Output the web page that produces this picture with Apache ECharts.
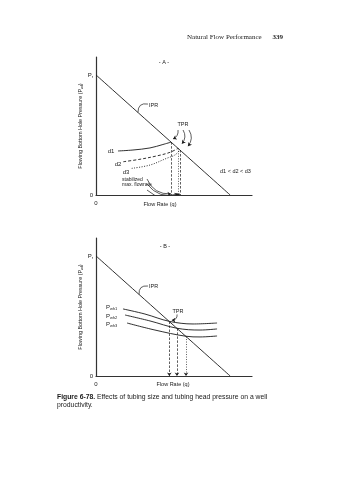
<!DOCTYPE html>
<html><head><meta charset="utf-8">
<script src="https://cdn.jsdelivr.net/npm/echarts@6/dist/echarts.min.js"></script>
<style>html,body{margin:0;padding:0;background:#fff}#c{width:339px;height:480px}</style>
</head><body><div id="c"></div>
<script>
// ---- data (schematic, normalized units) ----
const prValue = 87;
const iprA = [[0, 87], [86, 0]];
const iprB = [[0, 87], [86, 0]];
// Panel A: TPR curves for tubing sizes d1 < d2 < d3
const tprD1 = [[14.1, 31.9], [23.7, 32.6], [34.6, 34.1], [42.9, 36.6], [48.1, 38.3]];
const tprD2 = [[17.5, 24.1], [28.2, 25.9], [38.9, 28.3], [47.4, 30.9], [52.6, 33.8]];
const tprD3 = [[22.9, 19.3], [34.6, 21.7], [45.3, 26.6], [50.6, 29.0], [53.8, 32.6]];
const opA = [[48.1, 38.3], [52.6, 33.8], [53.8, 32.6]];
// Panel B: TPR curves for wellhead pressures Pwh1 > Pwh2 > Pwh3
const tprP1 = [[17.3, 48.6], [31.4, 44.9], [47.0, 39.6], [62.2, 37.7], [77.6, 38.4]];
const tprP2 = [[18.6, 44.2], [34.6, 39.9], [51.9, 34.6], [66.7, 33.3], [77.6, 34.1]];
const tprP3 = [[19.9, 38.4], [37.8, 33.3], [57.7, 28.8], [66.7, 28.3], [77.6, 29.0]];
const opB = [[47.0, 39.5], [51.9, 34.5], [57.7, 28.6]];
// annotation leaders / arrows (data coordinates)
const iprLeaderA = [[26.9, 59.8], [33.3, 65.9]];
const iprLeaderB = [[27.6, 59.0], [33.3, 65.2]];
const tprArrowsA = [[[52.6, 47.1], [49.4, 40.6]], [[55.8, 47.1], [55.1, 37.2]], [[59.6, 47.1], [59.0, 35.4]]];
const stabArrowsA = [[[32.7, 11.6], [48.1, 0.8]], [[32.7, 8.0], [52.6, 0.8]], [[32.7, 3.6], [53.8, 0.8]]];
const tprLeaderB = [[52.0, 44.6], [48.6, 40.4]];

const FONT = '"Liberation Sans", Arial, sans-serif';
const INK = '#1a1a1a';
const chart = echarts.init(document.getElementById('c'), null, {renderer: 'canvas'});

function axisPair(i) {
  return {
    x: {
      gridIndex: i, type: 'value', min: 0, max: 100,
      axisLine: {show: true, lineStyle: {color: '#333', width: 1.2}},
      axisTick: {show: false}, splitLine: {show: false},
      axisLabel: {customValues: [0], margin: 5, fontSize: 6, color: INK, fontFamily: FONT}
    },
    y: {
      gridIndex: i, type: 'value', min: 0, max: 100,
      axisLine: {show: true, lineStyle: {color: '#333', width: 1.2}},
      axisTick: {show: false}, splitLine: {show: false},
      axisLabel: {
        customValues: [0, prValue], margin: 3, fontSize: 6, color: INK, fontFamily: FONT,
        formatter: v => v === 0 ? '0' : '{p|P}{s|r}',
        rich: {p: {fontSize: 6, color: INK, fontFamily: FONT}, s: {fontSize: 4, color: INK, fontFamily: FONT, padding: [4, 0, 0, 0]}}
      },
      name: 'Flowing Bottom Hole Pressure ({p|P}{s|wf})',
      nameLocation: 'middle', nameGap: 9, nameRotate: 90,
      nameTextStyle: {fontSize: 5.4, color: INK, fontFamily: FONT,
        rich: {p: {fontSize: 5.4, color: INK, fontFamily: FONT}, s: {fontSize: 3.8, color: INK, fontFamily: FONT, padding: [3, 0, 0, 0]}}}
    }
  };
}
const A = axisPair(0), B = axisPair(1);

function curve(data, gi, type, w) {
  return {type: 'line', xAxisIndex: gi, yAxisIndex: gi, data: data, smooth: 0.35,
    showSymbol: false, silent: true, animation: false,
    lineStyle: {color: INK, width: w || 0.9, type: type || 'solid'}};
}
function arrows(list, gi, opt) {
  opt = opt || {};
  return {type: 'lines', coordinateSystem: 'cartesian2d', xAxisIndex: gi, yAxisIndex: gi,
    silent: true, animation: false,
    symbol: opt.arrow === false ? ['none', 'none'] : ['none', 'arrow'], symbolSize: 3.5,
    lineStyle: {color: INK, width: 0.7, curveness: opt.curve || 0, type: opt.type || 'solid', opacity: 1},
    data: list.map((c, k) => ({coords: c, lineStyle: opt.types ? {type: opt.types[k]} : undefined}))};
}
function drops(ops, gi, types, arrowOn) {
  return arrows(ops.map(p => [p, [p[0], 0]]), gi, {types: types, arrow: arrowOn});
}

function txt(x, y, text, size, align, extra) {
  return Object.assign({type: 'text', x: x, y: y, silent: true,
    style: Object.assign({text: text, font: (size || 6) + 'px ' + FONT, fill: INK,
      textAlign: align || 'left', textVerticalAlign: 'middle'}, extra || {})});
}
const subRich = {p: {fontSize: 6, fontFamily: FONT, color: INK}, s: {fontSize: 4, fontFamily: FONT, color: INK, padding: [4, 0, 0, 0]}};

chart.setOption({
  animation: false,
  grid: [
    {left: 96, top: 57, width: 156, height: 138},
    {left: 96, top: 238, width: 156, height: 138}
  ],
  xAxis: [A.x, B.x],
  yAxis: [A.y, B.y],
  series: [
    curve(iprA, 0, 'solid', 0.9),
    curve(tprD1, 0, 'solid'),
    curve(tprD2, 0, [3, 2]),
    curve(tprD3, 0, [1, 1.5]),
    drops(opA, 0, [[2.5, 1.5], [1, 1.5], [2.5, 1.5]], false),
    arrows(tprArrowsA, 0, {curve: 0.35}),
    arrows(stabArrowsA, 0, {curve: -0.35}),
    arrows([iprLeaderA], 0, {curve: 0.6, arrow: false}),
    curve(iprB, 1, 'solid', 0.9),
    curve(tprP1, 1, 'solid'),
    curve(tprP2, 1, 'solid'),
    curve(tprP3, 1, 'solid'),
    drops(opB, 1, [[2.5, 1.5], [2.5, 1.5], [1, 1.5]], true),
    arrows([iprLeaderB], 1, {curve: 0.6, arrow: false}),
    arrows([tprLeaderB], 1, {curve: 0.5})
  ],
  graphic: [
    txt(187, 37, 'Natural Flow Performance', 7, 'left', {font: '7px "Liberation Serif", "Times New Roman", serif'}),
    txt(283, 37, '339', 7, 'right', {font: 'bold 7px "Liberation Serif", "Times New Roman", serif'}),
    // panel A
    txt(164, 62, '- A -', 5.5, 'center'),
    txt(149, 105, 'IPR', 5.5, 'left'),
    txt(183, 124, 'TPR', 5.5, 'center'),
    txt(111, 151, 'd1', 6, 'center'),
    txt(118, 164, 'd2', 6, 'center'),
    txt(126, 172, 'd3', 6, 'center'),
    txt(220, 171, 'd1 < d2 < d3', 5.5, 'left'),
    txt(122, 182, 'stabilized\nmax. flowrate', 5, 'left', {lineHeight: 5}),
    txt(160, 204, 'Flow Rate (q)', 5.5, 'center'),
    // panel B
    txt(165, 246, '- B -', 5.5, 'center'),
    txt(149, 286, 'IPR', 5.5, 'left'),
    txt(178, 311, 'TPR', 5.5, 'center'),
    txt(106, 307, '{p|P}{s|wh1}', 6, 'left', {rich: subRich}),
    txt(106, 316, '{p|P}{s|wh2}', 6, 'left', {rich: subRich}),
    txt(106, 324, '{p|P}{s|wh3}', 6, 'left', {rich: subRich}),
    txt(173, 384, 'Flow Rate (q)', 5.5, 'center'),
    // caption
    txt(57, 397, '{b|Figure 6-78.} Effects of tubing size and tubing head pressure on a well', 6.8, 'left',
      {rich: {b: {fontWeight: 'bold', fontSize: 6.8, fontFamily: FONT, color: INK}}}),
    txt(57, 405, 'productivity.', 6.8, 'left')
  ]
});
</script></body></html>
